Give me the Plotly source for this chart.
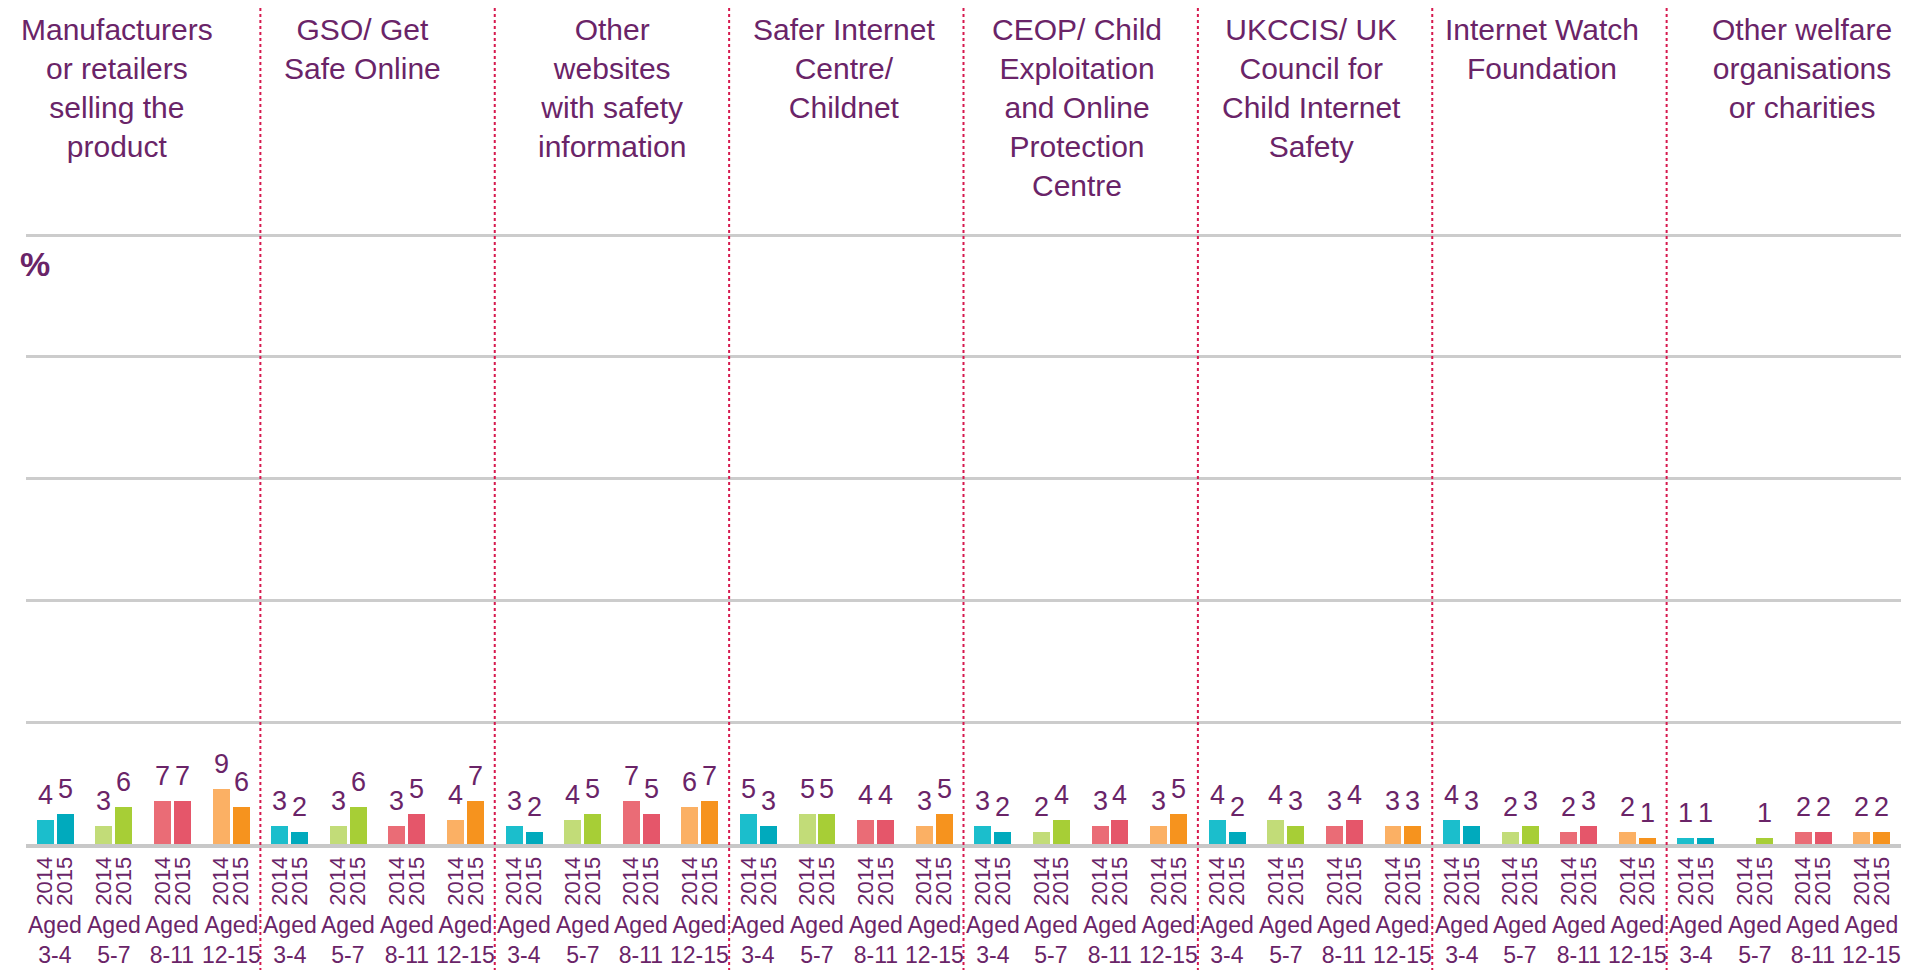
import plotly.graph_objects as go

categories = [
    "Manufacturers<br>or retailers<br>selling the<br>product",
    "GSO/ Get<br>Safe Online",
    "Other<br>websites<br>with safety<br>information",
    "Safer Internet<br>Centre/<br>Childnet",
    "CEOP/ Child<br>Exploitation<br>and Online<br>Protection<br>Centre",
    "UKCCIS/ UK<br>Council for<br>Child Internet<br>Safety",
    "Internet Watch<br>Foundation",
    "Other welfare<br>organisations<br>or charities",
]
age_groups = ["Aged<br>3-4", "Aged<br>5-7", "Aged<br>8-11", "Aged<br>12-15"]
years = ["2014", "2015"]

# values per category (one entry per category above)
aged_3_4_2014 = [4, 3, 3, 5, 3, 4, 4, 1]
aged_3_4_2015 = [5, 2, 2, 3, 2, 2, 3, 1]
aged_5_7_2014 = [3, 3, 4, 5, 2, 4, 2, None]
aged_5_7_2015 = [6, 6, 5, 5, 4, 3, 3, 1]
aged_8_11_2014 = [7, 3, 7, 4, 3, 3, 2, 2]
aged_8_11_2015 = [7, 5, 5, 4, 4, 4, 3, 2]
aged_12_15_2014 = [9, 4, 6, 3, 3, 3, 2, 2]
aged_12_15_2015 = [6, 7, 7, 5, 5, 3, 1, 2]

series = [
    [aged_3_4_2014, aged_3_4_2015],
    [aged_5_7_2014, aged_5_7_2015],
    [aged_8_11_2014, aged_8_11_2015],
    [aged_12_15_2014, aged_12_15_2015],
]
colors = [
    ["#1BBECC", "#00AABD"],
    ["#C2DC78", "#A7CE36"],
    ["#EA6C76", "#E5566A"],
    ["#FBB064", "#F6931E"],
]
# horizontal nudges (px) of the category titles, as in the original layout
title_xshift = [-26, -15, 0, -2, -4, -4, -7, 18]

PURPLE = "#6A2468"
FONT = "Liberation Sans, Arial, sans-serif"
OFF = 0.17
BW = 0.29

# figure geometry (page body has an 8px margin on each side)
W, H = 1893, 962
ML, MR, MT, MB = 18, 0, 221, 126
PLOT_H = H - MT - MB
BASE = H - MB


def py(p):
    """figure pixel row -> paper y"""
    return (BASE - p) / PLOT_H


fig = go.Figure()
annotations = []
tickvals, ticktext = [], []

n_cat = len(categories)
n_age = len(age_groups)
for a in range(n_age):
    for yi in range(2):
        xs = [c * n_age + a + (OFF if yi else -OFF) for c in range(n_cat)]
        vals = series[a][yi]
        fig.add_trace(go.Bar(
            x=xs, y=vals, width=BW, marker_color=colors[a][yi],
            marker_line_width=0, showlegend=False, hoverinfo="x+y",
        ))
        for x, v in zip(xs, vals):
            tickvals.append(x)
            ticktext.append(years[yi])
            if v is not None:
                annotations.append(dict(
                    x=x, y=v, xref="x", yref="y", text=str(v), showarrow=False,
                    yanchor="bottom", xanchor="center", yshift=8,
                    font=dict(family=FONT, size=27, color=PURPLE),
                ))

# age group labels and category titles
for c in range(n_cat):
    for a in range(n_age):
        annotations.append(dict(
            x=c * n_age + a, y=py(902), xref="x", yref="paper", text=age_groups[a],
            showarrow=False, yanchor="top", xanchor="center",
            font=dict(family=FONT, size=23, color=PURPLE),
        ))
    annotations.append(dict(
        x=c * n_age + (n_age - 1) / 2, y=py(3), xref="x", yref="paper",
        text=categories[c], showarrow=False, yanchor="top", xanchor="center",
        xshift=title_xshift[c],
        font=dict(family=FONT, size=30, color=PURPLE),
    ))

annotations.append(dict(
    x=0.0, y=py(256), xref="paper", yref="paper", text="<b>%</b>", showarrow=False,
    xanchor="center", yanchor="middle", xshift=9,
    font=dict(family=FONT, size=34, color=PURPLE),
))

shapes = []
for c in range(1, n_cat):
    xs = c * n_age - 0.5
    shapes.append(dict(
        type="line", xref="x", yref="paper", x0=xs, x1=xs, y0=py(975), y1=py(-3),
        line=dict(color="#D6194E", width=2, dash="dot"), layer="above",
    ))

fig.update_layout(
    width=W, height=H,
    margin=dict(l=ML, r=MR, t=MT, b=MB, pad=0),
    paper_bgcolor="white", plot_bgcolor="white",
    barmode="overlay", bargap=0,
    annotations=annotations, shapes=shapes,
    font=dict(family=FONT, color=PURPLE),
    xaxis=dict(
        range=[-0.5, n_cat * n_age - 0.5], tickvals=tickvals, ticktext=ticktext,
        tickangle=-90, tickfont=dict(family=FONT, size=22, color=PURPLE),
        showgrid=False, zeroline=False, showline=True, linecolor="#C8C8C8",
        linewidth=4, ticks="", fixedrange=True,
    ),
    yaxis=dict(
        range=[0, 101], tickvals=[20, 40, 60, 80, 100], showgrid=True,
        gridcolor="#CCCCCC", gridwidth=3,
        showticklabels=False, zeroline=False, fixedrange=True,
    ),
)

fig.write_html("out.html")
